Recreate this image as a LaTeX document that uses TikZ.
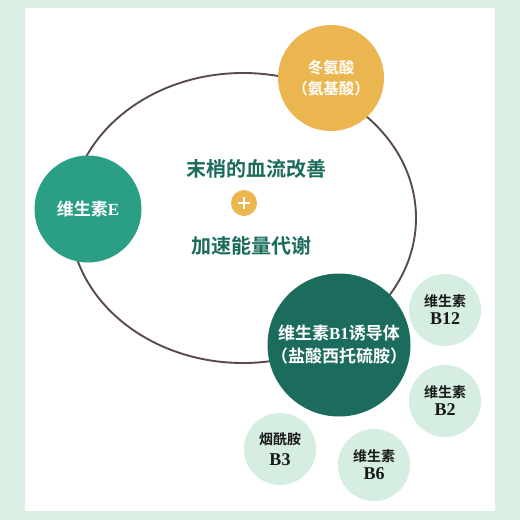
\documentclass[tikz,border=0pt]{standalone}
\usepackage{fontspec}
\newfontfamily\cjk{Noto Sans CJK SC}[BoldFont={Noto Sans CJK SC Bold}]
\newfontfamily\lat{Liberation Serif}
\definecolor{bggreen}{HTML}{DCEFE5}
\definecolor{orangec}{HTML}{EBB650}
\definecolor{tealc}{HTML}{2B9E86}
\definecolor{darkg}{HTML}{1C6C5D}
\definecolor{lightg}{HTML}{D5EEE1}
\definecolor{ringc}{HTML}{5B4A4B}
\tikzset{
  bigcirc/.style={circle,inner sep=0pt,align=center,text=white,font=\cjk\bfseries},
  smallcirc/.style={circle,fill=lightg,minimum size=72pt,inner sep=0pt,align=center,text=black!90,font=\cjk\bfseries\fontsize{14}{18}\selectfont},
  maintext/.style={text=darkg,font=\cjk\bfseries\fontsize{20}{24}\selectfont,inner sep=0pt}
}
\newcommand{\bigB}[1]{{\lat\bfseries\fontsize{18}{20}\selectfont #1}}
\begin{document}
\begin{tikzpicture}[x=1pt,y=-1pt]
\fill[bggreen] (0,0) rectangle (520,520);
\fill[white] (25,8) rectangle (495,511);
\useasboundingbox (0,0) rectangle (520,520);
\draw[ringc,line width=1.9pt] (243,218) ellipse [x radius=173, y radius=145];
\node[bigcirc,fill=orangec,minimum size=106pt,font=\cjk\bfseries\fontsize{15.5}{21}\selectfont] (asp) at (331,78) {冬氨酸\\\kern-.4em（氨基酸）\kern-.4em};
\node[bigcirc,fill=tealc,minimum size=107pt,font=\cjk\bfseries\fontsize{17}{20}\selectfont] (ve) at (88,209) {维生素{\lat\bfseries E}};
\node[bigcirc,fill=darkg,minimum size=143pt,font=\cjk\bfseries\fontsize{17}{23}\selectfont] (b1) at (339,345) {维生素{\lat\bfseries B1}诱导体\\\kern-.4em（盐酸西托硫胺）\kern-.4em};
\node[smallcirc] (b12) at (445,310) {维生素\\\bigB{B12}};
\node[smallcirc] (b2) at (445,401) {维生素\\\bigB{B2}};
\node[smallcirc] (b6) at (374,465) {维生素\\\bigB{B6}};
\node[smallcirc] (b3) at (280,449) {烟酰胺\\[3pt]\bigB{B3}};
\node[maintext] (t1) at (256,169) {末梢的血流改善};
\node[circle,fill=orangec,minimum size=26pt,inner sep=0pt] (plus) at (244,203) {};
\draw[white,line width=1.2pt] ([xshift=-6pt]plus.center) -- ([xshift=6pt]plus.center);
\draw[white,line width=1.2pt] ([yshift=-6pt]plus.center) -- ([yshift=6pt]plus.center);
\node[maintext] (t2) at (251,246) {加速能量代谢};
\end{tikzpicture}
\end{document}
